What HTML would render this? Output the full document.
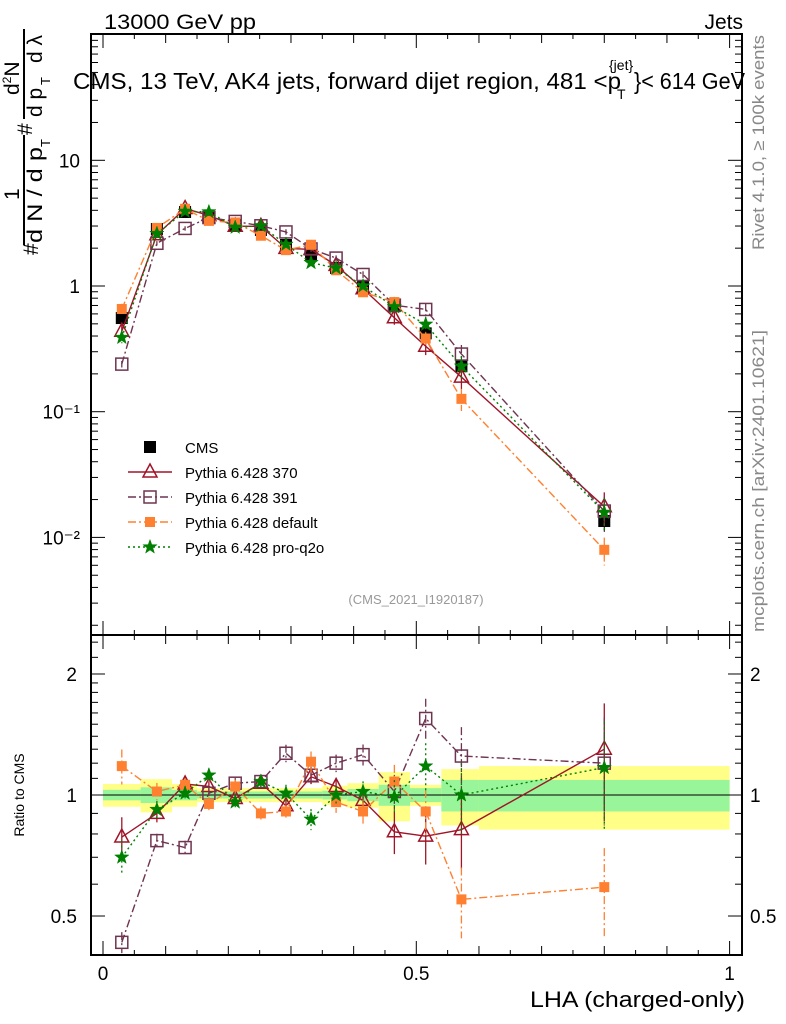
<!DOCTYPE html>
<html><head><meta charset="utf-8"><style>
body{margin:0;background:#fff}
svg{display:block;font-family:"Liberation Sans",Arial,sans-serif}
</style></head><body>
<svg id="chart" width="786" height="1024" viewBox="0 0 786 1024" xmlns="http://www.w3.org/2000/svg">
<text x="104" y="29" font-size="21" textLength="152" lengthAdjust="spacingAndGlyphs">13000 GeV pp</text>
<text x="743" y="29" font-size="21" text-anchor="end">Jets</text>
<g>
<text x="73" y="89" font-size="23" textLength="548" lengthAdjust="spacingAndGlyphs">CMS, 13 TeV, AK4 jets, forward dijet region, 481 &lt;p</text>
<text x="617" y="99" font-size="14">T</text>
<text x="609" y="70" font-size="14">{jet}</text>
<text x="634" y="89" font-size="23" textLength="111" lengthAdjust="spacingAndGlyphs">}&lt; 614 GeV</text>
</g>
<g transform="translate(0,255) rotate(-90)" font-size="21">
<text x="0" y="38">#</text>
<text x="12" y="42" textLength="96" lengthAdjust="spacingAndGlyphs">d N / d p</text>
<text x="108" y="50" font-size="13">T</text>
<text x="55" y="19">1</text>
<line x1="10" y1="24" x2="120" y2="24" stroke="#000" stroke-width="2"/>
<text x="120" y="32">#</text>
<line x1="136" y1="24" x2="226" y2="24" stroke="#000" stroke-width="2"/>
<text x="160" y="19">d<tspan font-size="12" dy="-8">2</tspan><tspan dy="8">N</tspan></text>
<text x="138" y="42">d p</text>
<text x="170" y="50" font-size="13">T</text>
<text x="192" y="42">d λ</text>
</g>
<text transform="translate(764,250) rotate(-90)" font-size="17" fill="#888" textLength="215" lengthAdjust="spacingAndGlyphs">Rivet 4.1.0, ≥ 100k events</text>
<text transform="translate(764,632) rotate(-90)" font-size="17" fill="#888" textLength="302" lengthAdjust="spacingAndGlyphs">mcplots.cern.ch [arXiv:2401.10621]</text>
<text x="416" y="604" font-size="13" fill="#999" text-anchor="middle">(CMS_2021_I1920187)</text>
<text x="24" y="795" font-size="14" transform="rotate(-90,24,795)" text-anchor="middle">Ratio to CMS</text>
<text x="530" y="1007" font-size="22" textLength="215" lengthAdjust="spacingAndGlyphs">LHA (charged-only)</text>
<g id="plot"></g>
</svg>
<script>
const xCenters=[0.030,0.086,0.131,0.169,0.211,0.252,0.292,0.332,0.372,0.415,0.465,0.515,0.572,0.800];
const binEdges=[0,0.06,0.11,0.15,0.19,0.23,0.27,0.31,0.35,0.39,0.44,0.49,0.54,0.60,1.0];
const cmsValues=[0.556,2.84,3.88,3.47,3.05,2.79,2.12,1.76,1.39,0.98,0.69,0.42,0.23,0.0135];
const bandYellow=[0.065,0.095,0.065,0.04,0.04,0.04,0.04,0.04,0.055,0.07,0.14,0.06,0.16,0.18];
const bandGreen=[0.03,0.045,0.03,0.02,0.02,0.02,0.02,0.02,0.025,0.035,0.06,0.04,0.09,0.09];
const ratio370=[0.786,0.90,1.065,1.05,0.98,1.07,0.94,1.11,1.05,0.97,0.81,0.79,0.82,1.30];
const err370=[0.12,0.05,0.04,0.03,0.03,0.03,0.03,0.04,0.04,0.05,0.12,0.15,0.2,0.3];
const ratio391=[0.43,0.77,0.74,1.01,1.07,1.08,1.27,1.12,1.20,1.26,1.02,1.55,1.25,1.20];
const err391=[0.06,0.04,0.04,0.03,0.03,0.03,0.05,0.05,0.05,0.06,0.1,0.12,0.18,0.3];
const ratioDef=[1.18,1.02,1.06,0.95,1.05,0.90,0.91,1.21,0.96,0.91,1.08,0.91,0.55,0.59];
const errDef=[0.1,0.05,0.04,0.04,0.04,0.04,0.04,0.06,0.06,0.07,0.1,0.13,0.2,0.25];
const ratioQ2o=[0.70,0.92,1.01,1.12,0.96,1.08,1.01,0.87,1.00,1.02,0.99,1.18,1.00,1.17];
const errQ2o=[0.1,0.05,0.04,0.04,0.04,0.04,0.05,0.06,0.05,0.06,0.1,0.14,0.2,0.3];
const mainTickLabels=["10","1","10⁻¹","10⁻²"];
const ratioTickLabels=["2","1","0.5"];
const xTickLabels=["0","0.5","1"];

const NS="http://www.w3.org/2000/svg";
const g=document.getElementById('plot');
const L=91,R=742,T1=34,B1=635,B2=955;
const X=v=>103+v*626.6;
const Ym=v=>286-Math.log10(v)*125.7;
const Yr=v=>795-Math.log10(v)*402;
function el(tag,attrs,parent){const e=document.createElementNS(NS,tag);for(const k in attrs)e.setAttribute(k,attrs[k]);(parent||g).appendChild(e);return e;}
function clip(id,y0,y1){const c=el('clipPath',{id:id});el('rect',{x:L,y:y0,width:R-L,height:y1-y0},c);}
clip('c1',T1,B1);clip('c2',B1,B2);
const gm=el('g',{'clip-path':'url(#c1)'});


const gr=el('g',{'clip-path':'url(#c2)'});



for(let i=0;i<cmsValues.length;i++){
  const x0=X(binEdges[i]),x1=X(binEdges[i+1]);
  const ry=el('rect',{x:x0,y:Yr(1+bandYellow[i]),width:x1-x0,height:Yr(1-bandYellow[i])-Yr(1+bandYellow[i]),fill:'#ffff88'},gr);
  
  
  const rg=el('rect',{x:x0,y:Yr(1+bandGreen[i]),width:x1-x0,height:Yr(1-bandGreen[i])-Yr(1+bandGreen[i]),fill:'#99f599'},gr);
  
  
}
const ref=el('line',{x1:L,x2:R,y1:Yr(1),y2:Yr(1),stroke:'#000','stroke-width':1},gr);



function marker(type,x,y,color,parent){
  let m;
  if(type==='tri'){m=el('polygon',{points:`${x},${y-8} ${x-7},${y+5} ${x+7},${y+5}`,fill:'none',stroke:color,'stroke-width':1.5},parent);}
  else if(type==='osq'){m=el('rect',{x:x-6,y:y-6,width:12,height:12,fill:'none',stroke:color,'stroke-width':1.5},parent);}
  else if(type==='fsq'){m=el('rect',{x:x-5,y:y-5,width:10,height:10,fill:color},parent);}
  else if(type==='bsq'){m=el('rect',{x:x-6,y:y-6,width:12,height:12,fill:color},parent);}
  else {let p=[];for(let k=0;k<10;k++){const r=k%2?3:7.5,a=-Math.PI/2+k*Math.PI/5;p.push((x+r*Math.cos(a)).toFixed(1)+','+(y+r*Math.sin(a)).toFixed(1));}
    m=el('polygon',{points:p.join(' '),fill:color,stroke:color,'stroke-width':0.5},parent);}
  
  
}
const series=[
  {name:'pythia-370',r:ratio370,e:err370,c:'#a01428',dash:'',m:'tri',label:'Pythia 6.428 370'},
  {name:'pythia-391',r:ratio391,e:err391,c:'#6e3450',dash:'8,3,2,3',m:'osq',label:'Pythia 6.428 391'},
  {name:'pythia-default',r:ratioDef,e:errDef,c:'#ff8030',dash:'8,3,2,3',m:'fsq',label:'Pythia 6.428 default'},
  {name:'pythia-pro-q2o',r:ratioQ2o,e:errQ2o,c:'#008000',dash:'2,3',m:'star',label:'Pythia 6.428 pro-q2o'}
];
for(let i=0;i<cmsValues.length;i++){
  const y=Ym(cmsValues[i]),h=bandYellow[i];
  el('line',{x1:X(xCenters[i]),x2:X(xCenters[i]),y1:Ym(cmsValues[i]*(1+h)),y2:Ym(cmsValues[i]*(1-h)),stroke:'#000'},gm);
  marker('bsq',X(xCenters[i]),y,'#000',gm);
}
series.forEach(s=>{
  const pm=[],pr=[];
  const sg=el('g',{},gm);
  const sr=el('g',{},gr);
  for(let i=0;i<cmsValues.length;i++){
    const v=cmsValues[i]*s.r[i],x=X(xCenters[i]);
    pm.push(x+','+Ym(v));pr.push(x+','+Yr(s.r[i]));
    el('line',{x1:x,x2:x,y1:Ym(v*(1+s.e[i])),y2:Ym(v*(1-s.e[i])),stroke:s.c,'stroke-width':1.3,'stroke-dasharray':s.dash},sg);
    el('line',{x1:x,x2:x,y1:Yr(s.r[i]*(1+s.e[i])),y2:Yr(Math.max(0.01,s.r[i]*(1-s.e[i]))),stroke:s.c,'stroke-width':1.3,'stroke-dasharray':s.dash},sr);
  }
  el('polyline',{points:pm.join(' '),fill:'none',stroke:s.c,'stroke-width':1.4,'stroke-dasharray':s.dash},sg);
  el('polyline',{points:pr.join(' '),fill:'none',stroke:s.c,'stroke-width':1.4,'stroke-dasharray':s.dash},sr);
  for(let i=0;i<cmsValues.length;i++){
    marker(s.m,X(xCenters[i]),Ym(cmsValues[i]*s.r[i]),s.c,sg);
    marker(s.m,X(xCenters[i]),Yr(s.r[i]),s.c,sr);
  }
});
const lg=el('g',{});
const le0=el('g',{},lg);
marker('bsq',150,447,'#000',le0);
el('text',{x:185,y:453,'font-size':15},le0).textContent='CMS';
series.forEach((s,k)=>{
  const y=472+k*25;
  const le=el('g',{},lg);
  el('line',{x1:128,x2:172,y1:y,y2:y,stroke:s.c,'stroke-width':1.4,'stroke-dasharray':s.dash},le);
  marker(s.m,150,y,s.c,le);
  el('text',{x:185,y:y+6,'font-size':15},le).textContent=s.label;
});
[[T1,B1],[B1,B2]].forEach(([a,b],k)=>{
  const f=el('rect',{x:L,y:a,width:R-L,height:b-a,fill:'none',stroke:'#000','stroke-width':2});
  
  
  for(let t=0;t<=20;t++){
    const v=t*0.05,x=X(v);const len=t%10===0?14:(t%2===0?9:5);
    el('line',{x1:x,x2:x,y1:b,y2:b-len,stroke:'#000'});
    el('line',{x1:x,x2:x,y1:a,y2:a+len,stroke:'#000'});
  }
});
for(let d=-3;d<=1;d++)for(let m=1;m<10;m++){
  const v=m*Math.pow(10,d),y=Ym(v);if(y<T1||y>B1)continue;const len=m===1?14:7;
  el('line',{x1:L,x2:L+len,y1:y,y2:y,stroke:'#000'});el('line',{x1:R,x2:R-len,y1:y,y2:y,stroke:'#000'});
}
[10,1,0.1,0.01].forEach((v,i)=>{
  const t=el('text',{x:80,y:Ym(v)+7,'font-size':19,'text-anchor':'end'});
  
  
  t.textContent=mainTickLabels[i];
});
[0.4,0.5,0.6,0.7,0.8,0.9,1,1.1,1.2,1.3,1.4,1.5,1.6,1.7,1.8,1.9,2,2.2,2.4].forEach(v=>{
  const y=Yr(v);if(y<B1||y>B2)return;const len=(v===1||v===2||v===0.5)?14:7;
  el('line',{x1:L,x2:L+len,y1:y,y2:y,stroke:'#000'});el('line',{x1:R,x2:R-len,y1:y,y2:y,stroke:'#000'});
});
[2,1,0.5].forEach((v,i)=>{
  const t=el('text',{x:77,y:Yr(v)+7,'font-size':19,'text-anchor':'end'});
  
  
  t.textContent=ratioTickLabels[i];
  const t2=el('text',{x:750,y:Yr(v)+7,'font-size':19});
  
  
  t2.textContent=ratioTickLabels[i];
});
[0,0.5,1].forEach((v,i)=>{
  const t=el('text',{x:X(v),y:980,'font-size':19,'text-anchor':'middle'});
  
  
  t.textContent=xTickLabels[i];
});
</script>
</body></html>
